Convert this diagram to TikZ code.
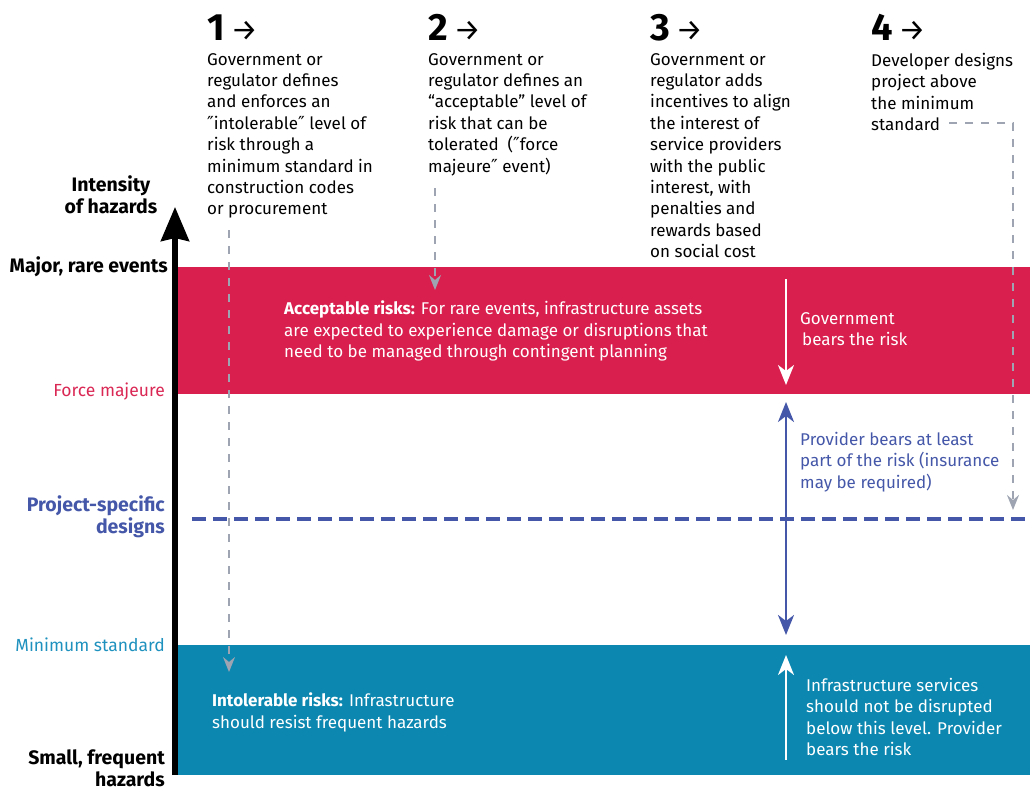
\documentclass[tikz,border=0pt]{standalone}
\usepackage{fontspec}
\setmainfont{Fira Sans}
\newfontfamily\dqfam{DejaVu Sans}
\newcommand{\dqm}{{\dqfam\fontsize{18}{18}\selectfont ″}}
\usetikzlibrary{arrows.meta}
\definecolor{bandred}{RGB}{217,31,78}
\definecolor{bandteal}{RGB}{12,135,176}
\definecolor{provblue}{RGB}{68,87,168}
\definecolor{dashgray}{RGB}{158,164,178}
\definecolor{fmred}{RGB}{218,40,85}
\definecolor{minteal}{RGB}{30,145,190}
\begin{document}
\begin{tikzpicture}[x=1pt,y=-1pt,
  txt/.style={inner sep=0pt, anchor=north west, align=left, font=\fontsize{17}{21.4}\selectfont},
  lbl/.style={inner sep=0pt, anchor=north east, align=right, font=\fontsize{17.5}{21.4}\selectfont},
  blbl/.style={inner sep=0pt, anchor=north east, align=right, font=\bfseries\fontsize{19.5}{22.5}\selectfont},
  headnum/.style={inner sep=0pt, anchor=base west, font=\bfseries\fontsize{38}{40}\selectfont},
  band/.style={inner sep=0pt, anchor=north west, minimum width=852pt},
  gdash/.style={draw=dashgray, line width=1.8pt, dash pattern=on 8pt off 8pt, -{Stealth[length=15pt,width=12pt,inset=5pt]}},
  wtip/.style={-{Stealth[length=20pt,width=16pt,inset=6pt]}},
  btip/.style={{Stealth[length=20pt,width=16pt,inset=6pt]}-{Stealth[length=20pt,width=16pt,inset=6pt]}}
]
\useasboundingbox (0,0) rectangle (1030,790);
% bands
\node[band, fill=bandred, minimum height=127pt] (redband) at (178,267) {};
\node[band, fill=bandteal, minimum height=130pt] (tealband) at (178,645) {};
% project-specific dashed level
\coordinate (pdl) at (192,519);
\coordinate (pdr) at (1030,519);
\draw[provblue, line width=4pt, dash pattern=on 14pt off 7pt] (pdl) -- (pdr);
% axis
\coordinate (axb) at (175,775);
\coordinate (axt) at (175,207);
\draw[line width=5.5pt, -{Stealth[length=34pt,width=28pt,inset=3pt]}] (axb) -- (axt);
% headings
\node[headnum] (h1) at (207,40) {1\hspace{6pt}{\fontsize{30}{30}\mdseries →}};
\node[headnum] (h2) at (428,40) {2\hspace{6pt}{\fontsize{30}{30}\mdseries →}};
\node[headnum] (h3) at (650,40) {3\hspace{6pt}{\fontsize{30}{30}\mdseries →}};
\node[headnum] (h4) at (871,40) {4\hspace{6pt}{\fontsize{30}{30}\mdseries →}};
% column texts
\node[txt] (c1) at (207,53) {Government or\\regulator defines\\and enforces an\\\dqm intolerable\dqm{} level of\\risk through a\\minimum standard in\\construction codes\\or procurement};
\node[txt] (c2) at (428,53) {Government or\\regulator defines an\\“acceptable” level of\\risk that can be\\tolerated\ \ (\dqm force\\majeure\dqm{} event)};
\node[txt] (c3) at (650,53) {Government or\\regulator adds\\incentives to align\\the interest of\\service providers\\with the public\\interest, with\\penalties and\\rewards based\\on social cost};
\node[txt] (c4) at (871,53) {Developer designs\\project above\\the minimum\\standard};
% left labels
\node[blbl, anchor=north, align=center] (intens) at (111,175) {Intensity\\of hazards};
\node[blbl] (major) at (168,256) {Major, rare events};
\node[lbl, text=fmred] (force) at (165,383) {Force majeure};
\node[blbl, text=provblue] (proj) at (165,495) {Project-specific\\designs};
\node[lbl, text=minteal] (minstd) at (165,638) {Minimum standard};
\node[blbl] (small) at (165,749) {Small, frequent\\hazards};
% band texts
\node[txt, text=white] (acc) at (284,301) {\textbf{Acceptable risks:} For rare events, infrastructure assets\\are expected to experience damage or disruptions that\\need to be managed through contingent planning};
\node[txt, text=white] (gov) at (800,312) {Government\\\hspace{2pt}bears the risk};
\node[txt, text=provblue] (prov) at (800,432) {Provider bears at least\\part of the risk (insurance\\may be required)};
\node[txt, text=white] (intol) at (212,693) {\textbf{Intolerable risks:} Infrastructure\\should resist frequent hazards};
\node[txt, text=white] (infra) at (806,678) {Infrastructure services\\should not be disrupted\\below this level. Provider\\bears the risk};
% gray dashed connectors
\coordinate (g1a) at (229,230);
\coordinate (g1b) at (229,672);
\coordinate (g2a) at (435,188);
\coordinate (g2b) at (435,290);
\coordinate (g4a) at (949,123);
\coordinate (g4c) at (1013,123);
\coordinate (g4b) at (1013,510);
\draw[gdash] (g1a) -- (g1b);
\draw[gdash] (g2a) -- (g2b);
\draw[gdash] (g4a) -- (g4c) -- (g4b);
% risk arrows
\coordinate (wa) at (786,279);
\coordinate (wb) at (786,385);
\coordinate (ba) at (786,402);
\coordinate (bb) at (786,635);
\coordinate (ua) at (786,760);
\coordinate (ub) at (786,655);
\draw[white, line width=2pt, wtip] (wa) -- (wb);
\draw[provblue, line width=2.5pt, btip] (ba) -- (bb);
\draw[white, line width=2pt, wtip] (ua) -- (ub);
\end{tikzpicture}
\end{document}
